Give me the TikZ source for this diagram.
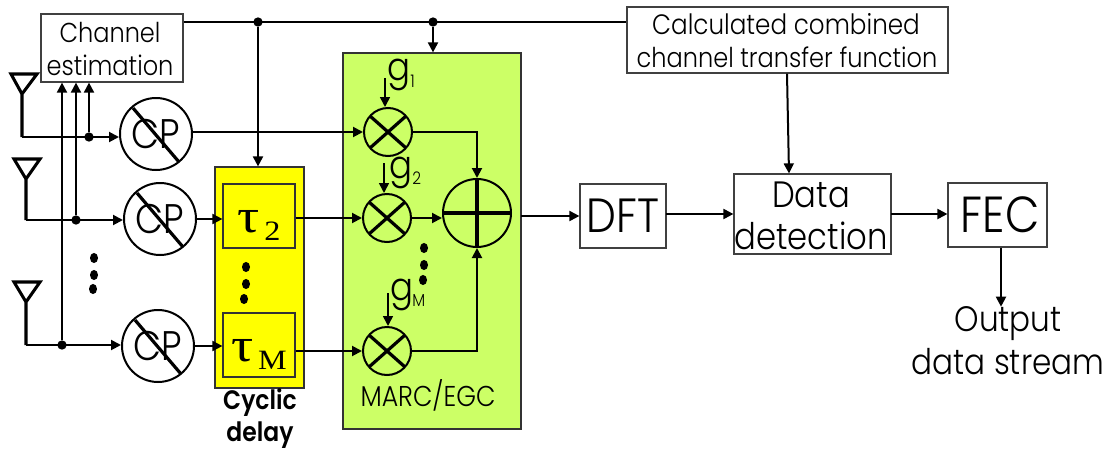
\documentclass[tikz,border=0pt]{standalone}
\usepackage{fontspec}
\setmainfont{Poppins}[UprightFont={* Light},BoldFont={* SemiBold},FakeStretch=0.88]
\newfontfamily\tauf[FakeStretch=1.15]{Liberation Serif}
\usetikzlibrary{arrows.meta}
\definecolor{greenbox}{HTML}{CCFF66}
\definecolor{yellowbox}{HTML}{FFFF00}
\newcommand{\fs}[1]{\fontsize{#1}{#1}\selectfont}
\tikzset{
  x=0.75pt,y=-0.75pt,
  wire/.style={line width=1.5pt,draw=black},
  conn/.style={wire,-{Triangle[length=7.5pt,width=7.5pt]}},
  box/.style={draw=black!75,line width=0.9pt,fill=white,inner sep=0pt,minimum width=#1},
  lbl/.style={inner sep=0pt,text=black},
  cp/.style={circle,draw=black,line width=1.5pt,fill=white,minimum size=54pt,inner sep=0pt,font=\fs{31}},
  mult/.style={circle,draw=black,line width=1.5pt,minimum size=36pt,inner sep=0pt},
  jn/.style={circle,fill=black,minimum size=7pt,inner sep=0pt},
  ant/.style={line width=2.3pt,draw=black,line join=miter},
  slash/.style={line width=2.4pt,draw=black},
  tile/.style={draw=black!80,line width=0.9pt,inner sep=0pt},
}
\tikzset{elldot/.pic={\fill[black] (0,0) ellipse [x radius=3pt,y radius=3.8pt];}}
\newcommand{\tauN}[1]{\raisebox{-12pt}[0pt][0pt]{\tauf\fs{36}τ\raisebox{-6pt}{\fs{21}\,#1}}}
\begin{document}
\begin{tikzpicture}
\useasboundingbox (0,0) rectangle (1110,450);
% panels
\node[tile,fill=greenbox,minimum width=133.5pt,minimum height=282pt] (green) at (432,241) {};
\node[tile,fill=yellowbox,minimum width=66.75pt,minimum height=165.75pt] (yellow) at (259.5,277.5) {};
\node[tile,minimum width=54pt,minimum height=48pt] (tauA) at (259,216) {\tauN{2}};
\node[tile,minimum width=54pt,minimum height=48pt] (tauM) at (259,345) {\tauN{M}};
% boxes
\node[box=106.5pt,minimum height=51pt] (est) at (112,48) {};
\node[lbl,font=\fs{20.5}] (estA) at (110,32) {Channel};
\node[lbl,font=\fs{20.5}] (estB) at (110,65) {estimation};
\node[box=240.75pt,minimum height=49.5pt] (calc) at (787.5,40) {};
\node[lbl,font=\fs{21}] (calcA) at (786,24) {Calculated combined};
\node[lbl,font=\fs{20.5}] (calcB) at (787,57) {channel transfer function};
\node[box=64.5pt,minimum height=48pt,font=\fs{36}] (dft) at (623,216) {DFT};
\node[box=117.75pt,minimum height=60pt] (data) at (812.5,214) {};
\node[lbl,font=\fs{27.5}] (dataA) at (811,195) {Data};
\node[lbl,font=\fs{27.5}] (dataB) at (811,236) {detection};
\node[box=74.25pt,minimum height=48pt,font=\fs{38}] (fec) at (997.5,215) {\hspace*{4pt}FEC};
\node[lbl,font=\fs{26.5}] (outA) at (1008,324) {Output};
\node[lbl,font=\fs{26.5}] (outB) at (1008,362) {data stream};
% CP
\foreach \n/\x/\y in {cpA/156/134,cpB/160/219,cpC/158/346}{
  \node[cp] (\n) at (\x,\y) {CP};
  \draw[slash] (\x-23,\y-26) -- (\x+23,\y+28);
}
% multipliers
\foreach \n/\x/\y in {mA/388/132,mB/387/218,mC/387/351}{
  \node[mult] (\n) at (\x,\y) {};
  \draw[slash] (\x-18,\y-16) -- (\x+18,\y+16);
  \draw[slash] (\x-18,\y+16) -- (\x+18,\y-16);
}
\node[mult,minimum size=51pt] (sum) at (477,213) {};
\draw[line width=2.6pt] (sum.west) -- (sum.east);
\draw[line width=2.6pt] (sum.north) -- (sum.south);
% g labels
\node[lbl,font=\fs{29},anchor=base west] (gA) at (387,80) {g};
\node[lbl,font=\fs{13},anchor=base west] (gAs) at (410,87) {1};
\node[lbl,font=\fs{29},anchor=base west] (gB) at (389,178) {g};
\node[lbl,font=\fs{13},anchor=base west] (gBs) at (412,184) {2};
\node[lbl,font=\fs{29},anchor=base west] (gC) at (390,300) {g};
\node[lbl,font=\fs{13},anchor=base west] (gCs) at (412,306) {M};
% other labels
\node[lbl,font=\fs{21.5}] (marc) at (428,395) {MARC/EGC};
\node[lbl,font=\fs{20}\bfseries] (cycA) at (260,403) {Cyclic};
\node[lbl,font=\fs{20}\bfseries] (cycB) at (260,435) {delay};
% antennas
\coordinate (a1) at (22,137); \coordinate (a2) at (26,220); \coordinate (a3) at (26,345);
\draw[ant] (11,74) -- (37,74) -- (22,94) -- cycle (22,94) -- (a1);
\draw[ant] (14,159) -- (40,159) -- (26,179) -- cycle (26,179) -- (a2);
\draw[ant] (14,282) -- (40,282) -- (26,302) -- cycle (26,302) -- (a3);
% junctions
\node[jn] (j1) at (89,137) {};
\node[jn] (j2) at (76,220) {};
\node[jn] (j3) at (62,345) {};
\node[jn] (t1) at (258,22) {};
\node[jn] (t2) at (433,22) {};
\coordinate (sumout) at (521,216);
\coordinate (dftout) at (666,214);
\coordinate (dataout) at (891,214);
% connectors
\draw[conn] (a1) -- (cpA.west |- a1);
\draw[conn] (a2) -- (cpB.west |- a2);
\draw[conn] (a3) -- (cpC.west |- a3);
\draw[conn] (j1) -- (j1 |- est.south);
\draw[conn] (j2) -- (j2 |- est.south);
\draw[conn] (j3) -- (j3 |- est.south);
\draw[wire] (est.east |- t1) -- (calc.west |- t1);
\draw[conn] (t1) -- (t1 |- yellow.north);
\draw[conn] (t2) -- (t2 |- green.north);
\draw[conn] (cpA.east |- mA) -- (mA.west);
\draw[conn] (cpB.east) -- (tauA.west |- cpB.east);
\draw[conn] (cpC.east) -- (tauM.west |- cpC.east);
\draw[conn] (tauA.east |- mB) -- (mB.west);
\draw[conn] (tauM.east |- mC) -- (mC.west);
\draw[conn] (mA.east) -| (sum.north);
\draw[conn] (mB.east) -- (sum.west |- mB);
\draw[conn] (mC.east) -| (sum.south);
\draw[conn] (sumout) -- (dft.west |- sumout);
\draw[conn] (dftout) -- (data.west |- dftout);
\draw[conn] (dataout) -- (fec.west |- dataout);
\draw[conn] (calc.south -| 787,0) -- (data.north -| 789,0);
\draw[conn] (fec.south -| 1001,0) -- (outA.north -| 1001,0);
\coordinate (g1s) at (385,78); \coordinate (g2s) at (384,163); \coordinate (g3s) at (388,293);
\draw[conn,line width=1.2pt] (g1s) -- (mA.north -| g1s);
\draw[conn,line width=1.2pt] (g2s) -- (mB.north -| g2s);
\draw[conn,line width=1.2pt] (g3s) -- (mC.north -| g3s);
% ellipsis dots
\foreach \x/\y in {94/258,94/275,93/289,246/267,246/284,244/299,424/248,424/265,423/280}
  \pic at (\x,\y) {elldot};
\end{tikzpicture}
\end{document}
